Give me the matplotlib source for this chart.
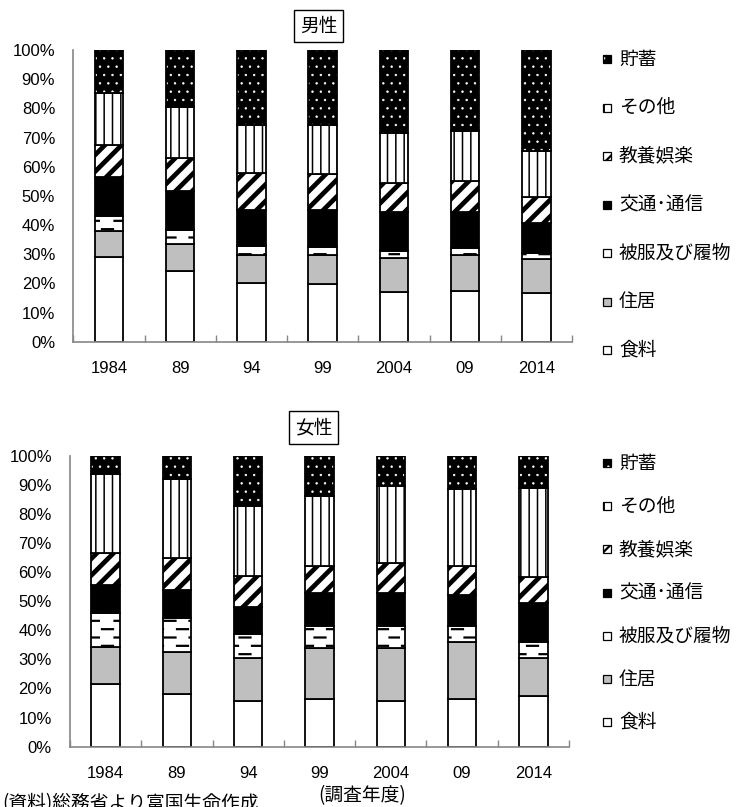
import matplotlib
matplotlib.use('Agg')
import numpy as np
import matplotlib.pyplot as plt
import matplotlib.hatch as mhatch
from matplotlib.path import Path
from matplotlib.patches import Rectangle

plt.rcParams['font.family'] = ['Liberation Sans', 'Noto Sans CJK JP']
JP = 'Noto Sans CJK JP'

years = ['1984', '89', '94', '99', '2004', '09', '2014']
items = ['食料', '住居', '被服及び履物', '交通･通信', '教養娯楽', 'その他', '貯蓄']

# 男性 (%)
m_food = [29.1, 24.3, 20.2, 19.7, 16.9, 17.5, 16.8]
m_housing = [9.0, 9.2, 9.5, 10.0, 11.7, 12.2, 11.4]
m_clothing = [5.0, 4.8, 3.2, 2.6, 2.5, 2.5, 2.1]
m_transport = [13.2, 13.5, 12.2, 12.8, 13.5, 12.4, 10.5]
m_leisure = [11.0, 11.1, 12.8, 12.3, 9.9, 10.5, 8.9]
m_other = [17.8, 17.7, 16.4, 16.9, 17.2, 17.2, 15.8]
m_savings = [14.9, 19.4, 25.7, 25.7, 28.3, 27.7, 34.5]

# 女性 (%)
f_food = [21.4, 18.1, 15.8, 16.4, 15.8, 16.4, 17.4]
f_housing = [13.0, 14.5, 14.6, 17.4, 18.0, 19.7, 13.0]
f_clothing = [11.4, 11.7, 8.3, 7.7, 7.8, 5.5, 5.5]
f_transport = [9.8, 9.5, 9.4, 11.2, 11.1, 10.5, 13.4]
f_leisure = [10.8, 11.1, 10.5, 9.4, 10.3, 10.0, 8.9]
f_other = [27.2, 27.0, 24.2, 24.0, 26.6, 26.3, 30.8]
f_savings = [6.4, 8.1, 17.2, 13.9, 10.4, 11.6, 11.0]

male = [m_food, m_housing, m_clothing, m_transport, m_leisure, m_other, m_savings]
female = [f_food, f_housing, f_clothing, f_transport, f_leisure, f_other, f_savings]


# '-' hatch drawn as short dashes, every other row shifted half a period
class DashRows(mhatch.HatchPatternBase):
    def __init__(self, hatch, density):
        self.num_lines = int((hatch.count('-') + hatch.count('+')) * density)
        self.per_row = 4
        self.num_vertices = self.num_lines * self.per_row * 2

    def set_vertices_and_codes(self, vertices, codes):
        step = 1.0 / self.num_lines
        k = 0
        for i in range(self.num_lines):
            y = (i + 0.5) * step
            shift = 0.5 / self.per_row if i % 2 else 0.0
            for j in range(self.per_row):
                x0 = j / self.per_row + shift + 0.02
                vertices[k] = (x0, y)
                vertices[k + 1] = (x0 + 0.11, y)
                codes[k] = Path.MOVETO
                codes[k + 1] = Path.LINETO
                k += 2


mhatch._hatch_types = [DashRows if t is mhatch.HorizontalHatch else t
                       for t in mhatch._hatch_types]

# face colour, hatch colour, bar hatch, key hatch, hatch linewidth
styles = [
    ('white', 'black', None, None, 1.0),
    ('#bfbfbf', 'black', None, None, 1.0),
    ('white', 'black', '--', '--', 1.6),
    ('black', 'black', None, None, 1.0),
    ('white', 'black', '//', '///', 3.4),
    ('white', 'black', '||', '||', 1.1),
    ('black', 'white', '..', '..', 0.5),
]

W, H = 737, 807
fig = plt.figure(figsize=(W / 100, H / 100), dpi=100)
GRAY = '#868686'


def set_hlw(patches, lw):
    for p in patches:
        if hasattr(p, 'set_hatch_linewidth'):
            p.set_hatch_linewidth(lw)


def draw_panel(ax, shares):
    x = np.arange(len(years))
    bottom = np.zeros(len(years))
    for vals, (face, hc, hatch, _, hlw) in zip(shares, styles):
        with plt.rc_context({'hatch.linewidth': hlw}):
            bars = ax.bar(x, vals, 0.4, bottom=bottom, color=face,
                          edgecolor=hc, linewidth=0, hatch=hatch)
            set_hlw(bars, hlw)
        ax.bar(x, vals, 0.4, bottom=bottom, fill=False,
               edgecolor='black', linewidth=1.3)
        bottom += np.array(vals)

    ax.set_xlim(-0.5, 6.5)
    ax.set_ylim(0, 100)
    ax.set_yticks(range(0, 101, 10))
    ax.set_yticklabels([f'{v}%' for v in range(0, 101, 10)])
    ax.tick_params(axis='y', length=0, pad=13, labelsize=12)
    ax.set_xticks(x)
    ax.set_xticklabels(years)
    ax.tick_params(axis='x', which='major', length=0, pad=14, labelsize=12)
    ax.set_xticks(np.arange(-0.5, 7, 1), minor=True)
    ax.tick_params(axis='x', which='minor', direction='in', length=5,
                   color=GRAY, width=1)
    for s in ('top', 'right'):
        ax.spines[s].set_visible(False)
    for s in ('left', 'bottom'):
        ax.spines[s].set_color(GRAY)
        ax.spines[s].set_linewidth(1.2)


def draw_key(top_px, step_px):
    for i, k in enumerate(range(6, -1, -1)):
        face, hc, _, hatch, hlw = styles[k]
        yc = top_px + i * step_px
        box = (603 / W, 1 - (yc + 4) / H)
        with plt.rc_context({'hatch.linewidth': min(hlw, 1.6)}):
            r = Rectangle(box, 8 / W, 8 / H, transform=fig.transFigure,
                          facecolor=face, edgecolor=hc, linewidth=0, hatch=hatch)
            set_hlw([r], min(hlw, 1.6))
        fig.add_artist(r)
        fig.add_artist(Rectangle(box, 8 / W, 8 / H, transform=fig.transFigure,
                                 fill=False, edgecolor='black', linewidth=0.9))
        fig.text(619 / W, 1 - yc / H, items[k], va='center', ha='left',
                 fontsize=13.5, family=JP)


ax1 = fig.add_axes([73.3 / W, 1 - 341.7 / H, 498.7 / W, 291.7 / H])
draw_panel(ax1, male)
ax2 = fig.add_axes([70 / W, 1 - 746.7 / H, 499 / W, 291 / H])
draw_panel(ax2, female)

draw_key(59, 48.5)
draw_key(463, 43.2)

box = dict(boxstyle='square,pad=0.3', fc='white', ec='black', lw=1)
fig.text(318.5 / W, 1 - 26 / H, '男性', ha='center', va='center',
         fontsize=13.5, family=JP, bbox=box)
fig.text(313.5 / W, 1 - 427.5 / H, '女性', ha='center', va='center',
         fontsize=13.5, family=JP, bbox=box)

fig.text(362 / W, 1 - 796 / H, '(調査年度)', ha='center', va='center',
         fontsize=13.5, family=JP)
fig.text(2 / W, 1 - 804 / H, '(資料)総務省より富国生命作成', ha='left',
         va='center', fontsize=13.5, family=JP)

fig.savefig('out.png', dpi=100)
